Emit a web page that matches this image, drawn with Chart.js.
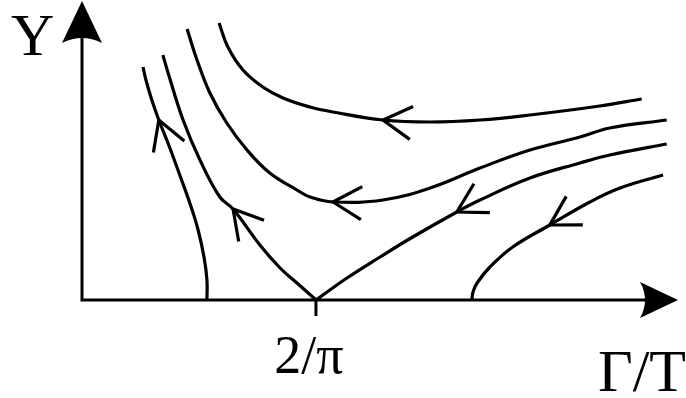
<!DOCTYPE html>
<html>
<head>
<meta charset="utf-8">
<script src="https://cdn.jsdelivr.net/npm/chart.js@4/dist/chart.umd.min.js"></script>
<style>
  html, body { margin: 0; padding: 0; background: #fff; }
  canvas { display: block; }
</style>
</head>
<body>
<canvas id="flowChart" width="686" height="398"></canvas>
<script>
// flow lines, each listed in the direction of the flow: [Γ/T, Y]
const flowA = [[0.340, 0.00], [0.340, 0.20], [0.332, 0.43], [0.316, 0.70], [0.297, 0.93], [0.271, 1.20],
               [0.238, 1.53], [0.209, 1.80], [0.190, 2.00], [0.174, 2.20], [0.166, 2.33]];
const flowB = [[0.637, 0.00], [0.588, 0.16], [0.539, 0.32], [0.484, 0.55], [0.411, 0.91], [0.375, 1.03],
               [0.321, 1.40], [0.275, 1.80], [0.236, 2.25], [0.220, 2.45]];
const flowC = [[1.591, 1.56], [1.436, 1.45], [1.355, 1.37], [1.219, 1.22], [1.083, 1.00], [1.020, 0.88],
               [0.900, 0.63], [0.811, 0.43], [0.721, 0.22], [0.637, 0.00]];
const flowD = [[1.581, 1.25], [1.464, 1.12], [1.382, 0.98], [1.273, 0.75], [1.172, 0.53], [1.110, 0.33],
               [1.075, 0.17], [1.064, 0.08], [1.061, 0.00]];
const flowE = [[1.591, 1.80], [1.436, 1.72], [1.355, 1.63], [1.219, 1.50], [1.083, 1.32], [0.947, 1.12],
               [0.819, 1.00], [0.683, 0.98], [0.620, 1.03], [0.585, 1.10], [0.511, 1.27], [0.449, 1.50],
               [0.394, 1.77], [0.348, 2.07], [0.313, 2.40], [0.286, 2.71]];
const flowF = [[1.523, 2.01], [1.409, 1.94], [1.219, 1.85], [1.083, 1.80], [0.947, 1.78], [0.819, 1.80],
               [0.683, 1.88], [0.620, 1.93], [0.547, 2.02], [0.492, 2.13], [0.438, 2.30], [0.397, 2.53],
               [0.373, 2.77]];

const flows = [flowA, flowB, flowC, flowD, flowE, flowF];
// index of the point that carries the direction arrow
const arrowAt = [7, 4, 5, 3, 7, 5];

const xTicks = [2 / Math.PI];
const xTickLabels = ['2/π'];
const xTitle = 'Γ/T';
const yTitle = 'Y';

const serif = '"Liberation Serif", "Times New Roman", serif';

const datasets = flows.map((flow, i) => ({
    data: flow.map(([x, y]) => ({ x, y })),
    arrowAt: arrowAt[i],
    showLine: true,
    borderColor: '#000',
    borderWidth: 3.2,
    pointRadius: 0,
    tension: 0.4,
    fill: false
}));

// open chevrons on each flow line
const flowArrows = {
    id: 'flowArrows',
    afterDatasetsDraw(chart) {
        const ctx = chart.ctx;
        chart.data.datasets.forEach((ds, i) => {
            const pts = chart.getDatasetMeta(i).data;
            const k = ds.arrowAt;
            const tip = pts[k], prev = pts[k - 1], next = pts[k + 1];
            const back = Math.atan2(prev.y - next.y, prev.x - next.x);
            const len = 33, spread = Math.PI / 6;
            ctx.save();
            ctx.strokeStyle = '#000';
            ctx.lineWidth = 3.2;
            ctx.lineJoin = 'miter';
            ctx.beginPath();
            ctx.moveTo(tip.x + len * Math.cos(back - spread), tip.y + len * Math.sin(back - spread));
            ctx.lineTo(tip.x, tip.y);
            ctx.lineTo(tip.x + len * Math.cos(back + spread), tip.y + len * Math.sin(back + spread));
            ctx.stroke();
            ctx.restore();
        });
    }
};

// axes with arrow heads, the 2/π tick and the axis names
const axesDraw = {
    id: 'axesDraw',
    afterDatasetsDraw(chart) {
        const { ctx, scales: { x, y } } = chart;
        const x0 = x.getPixelForValue(0);
        const y0 = y.getPixelForValue(0);
        const xTip = x.right + 8;
        const yTip = y.top + 1;

        ctx.save();
        ctx.strokeStyle = '#000';
        ctx.fillStyle = '#000';
        ctx.lineWidth = 3;

        ctx.beginPath();
        ctx.moveTo(x0, y0 + 1.5);
        ctx.lineTo(x0, yTip + 36);
        ctx.moveTo(x0 - 1.5, y0);
        ctx.lineTo(xTip - 32, y0);
        ctx.stroke();

        ctx.beginPath();
        ctx.moveTo(x0, yTip);
        ctx.lineTo(x0 + 20, yTip + 42);
        ctx.quadraticCurveTo(x0, yTip + 32, x0 - 20, yTip + 42);
        ctx.closePath();
        ctx.fill();

        ctx.beginPath();
        ctx.moveTo(xTip, y0);
        ctx.lineTo(xTip - 38, y0 + 18);
        ctx.quadraticCurveTo(xTip - 28, y0, xTip - 38, y0 - 18);
        ctx.closePath();
        ctx.fill();

        ctx.textBaseline = 'alphabetic';
        xTicks.forEach((v, i) => {
            const tx = x.getPixelForValue(v);
            ctx.beginPath();
            ctx.moveTo(tx, y0);
            ctx.lineTo(tx, y0 + 16);
            ctx.stroke();
            ctx.font = '54px ' + serif;
            ctx.textAlign = 'center';
            ctx.fillText(xTickLabels[i], tx - 7, y0 + 73);
        });

        ctx.font = '60px ' + serif;
        ctx.textAlign = 'right';
        ctx.fillText(xTitle, chart.width, y0 + 91);
        ctx.textAlign = 'left';
        ctx.fillText(yTitle, x0 - 71, yTip + 54);
        ctx.restore();
    }
};

const config = {
    type: 'scatter',
    data: { datasets: datasets },
    options: {
        responsive: false,
        animation: false,
        layout: { padding: { left: 82, right: 16, top: 0, bottom: 98 } },
        scales: {
            x: { type: 'linear', min: 0, max: 1.6, display: false },
            y: { type: 'linear', min: 0, max: 3, display: false }
        },
        plugins: {
            legend: { display: false },
            tooltip: { enabled: false }
        }
    },
    plugins: [flowArrows, axesDraw]
};

new Chart(document.getElementById('flowChart').getContext('2d'), config);
</script>
</body>
</html>
